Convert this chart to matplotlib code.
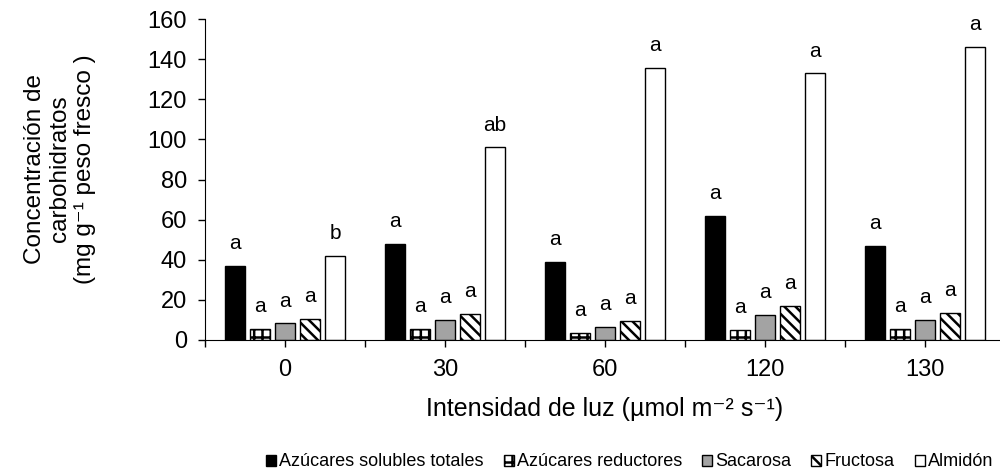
import matplotlib.pyplot as plt
import numpy as np

plt.rcParams['font.family'] = ['Liberation Sans', 'DejaVu Sans']
plt.rcParams['hatch.linewidth'] = 1.8

# data
groups = ['0', '30', '60', '120', '130']
series = ['Azúcares solubles totales', 'Azúcares reductores', 'Sacarosa',
          'Fructosa', 'Almidón']
totales = [37, 48, 39, 62, 47]
reductores = [5.6, 5.5, 3.5, 5.0, 5.5]
sacarosa = [8.3, 10, 6.5, 12.5, 10]
fructosa = [10.6, 13, 9.5, 17, 13.5]
almidon = [42, 96, 135.5, 133, 146]
letras = [
    ['a', 'a', 'a', 'a', 'a'],
    ['a', 'a', 'a', 'a', 'a'],
    ['a', 'a', 'a', 'a', 'a'],
    ['a', 'a', 'a', 'a', 'a'],
    ['b', 'ab', 'a', 'a', 'a'],
]

values = [totales, reductores, sacarosa, fructosa, almidon]
faces = ['black', 'white', '#a3a3a3', 'white', 'white']
hatches = [None, '++', None, '\\\\\\', None]

fig = plt.figure(figsize=(10, 4.75), dpi=100)
ax = fig.add_axes([0.205, 1 - 340 / 475, 0.8, (340 - 19) / 475])

x = np.arange(len(groups))
step = 25 / 160
w = 20 / 160
for i in range(5):
    pos = x + (i - 2) * step
    ax.bar(pos, values[i], width=w, color=faces[i], edgecolor='black',
           linewidth=1.0, hatch=hatches[i], label=series[i])
    for j in range(len(groups)):
        ax.annotate(letras[i][j], (pos[j], values[i][j]), xytext=(0, 12),
                    textcoords='offset points', ha='center', va='baseline',
                    fontsize=15)

ax.set_xlim(-0.5, 4.5)
ax.set_ylim(0, 160)
ax.set_yticks(range(0, 161, 20))
ax.set_xticks(x)
ax.set_xticklabels(groups)
ax.set_xticks(np.arange(-0.5, 4.6, 1), minor=True)
ax.tick_params(axis='both', which='both', direction='out', labelsize=17,
               length=5, width=1)
ax.tick_params(axis='y', pad=8)
ax.tick_params(axis='x', pad=9)
ax.spines['top'].set_visible(False)
ax.spines['right'].set_visible(False)

fig.text(0.605, 1 - 409 / 475, 'Intensidad de luz (µmol m⁻² s⁻¹)',
         fontsize=18, ha='center', va='center')
fig.text(0.060, 1 - 169 / 475,
         'Concentración de\ncarbohidratos\n(mg g⁻¹ peso fresco )',
         fontsize=17.5, rotation=90, ha='center', va='center',
         multialignment='center', linespacing=1.2)

fig.legend(loc='center left', bbox_to_anchor=(0.266, 1 - 462 / 475), ncol=5,
           frameon=False, fontsize=13, handlelength=0.55, handleheight=0.55,
           handletextpad=0.17, columnspacing=1.12, borderpad=0,
           borderaxespad=0)

fig.savefig('out.png', dpi=100)
